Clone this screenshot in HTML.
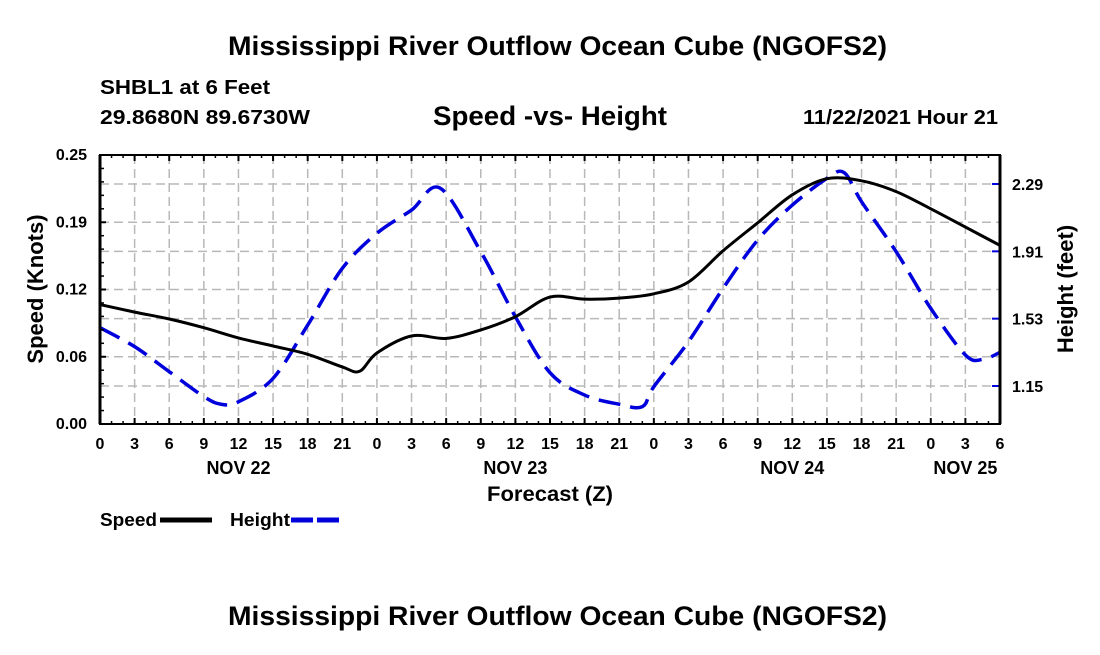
<!DOCTYPE html>
<html><head><meta charset="utf-8"><style>
body{margin:0;background:#fff;}
svg text{font-family:"Liberation Sans",Arial,sans-serif;font-weight:bold;fill:#000;}
</style></head><body>
<svg width="1100" height="650" viewBox="0 0 1100 650">
<text x="228" y="55" font-size="27" textLength="659" lengthAdjust="spacingAndGlyphs">Mississippi River Outflow Ocean Cube (NGOFS2)</text>
<text x="100" y="94" font-size="20" textLength="170" lengthAdjust="spacingAndGlyphs">SHBL1 at 6 Feet</text>
<text x="100" y="124" font-size="20" textLength="210" lengthAdjust="spacingAndGlyphs">29.8680N  89.6730W</text>
<text x="433" y="125" font-size="27" textLength="234" lengthAdjust="spacingAndGlyphs">Speed -vs- Height</text>
<text x="803" y="124" font-size="20" textLength="195" lengthAdjust="spacingAndGlyphs">11/22/2021 Hour 21</text>
<g id="grid"></g>
<g id="series"></g>
<g id="axes"></g>
<text transform="translate(43,289) rotate(-90)" text-anchor="middle" font-size="22">Speed (Knots)</text>
<text transform="translate(1073,289) rotate(-90)" text-anchor="middle" font-size="22">Height (feet)</text>
<text x="487" y="501" font-size="21" textLength="126" lengthAdjust="spacingAndGlyphs">Forecast (Z)</text>
<g>
<text x="100" y="526" font-size="18" textLength="57" lengthAdjust="spacingAndGlyphs">Speed</text>
<line x1="160" y1="520" x2="212" y2="520" stroke="#000" stroke-width="5"/>
<text x="230" y="526" font-size="18" textLength="60" lengthAdjust="spacingAndGlyphs">Height</text>
<line x1="291" y1="520" x2="343" y2="520" stroke="#0000dd" stroke-width="5" stroke-dasharray="22,4"/>
</g>
<text x="228" y="625" font-size="27" textLength="659" lengthAdjust="spacingAndGlyphs">Mississippi River Outflow Ocean Cube (NGOFS2)</text>
</svg>
<script>
const speedHours=[0,3,6,9,12,15,18,21,22.5,24,27,30,33,36,39,42,45,48,51,54,57,60,63,66,69,72,75,78];
const speedValues=[0.111,0.104,0.0976,0.0895,0.080,0.0725,0.0648,0.053,0.049,0.066,0.0818,0.0796,0.0874,0.0997,0.118,0.116,0.117,0.121,0.132,0.161,0.187,0.213,0.228,0.226,0.216,0.200,0.183,0.166];
const heightHours=[0,3,6,9,10.5,12,15,18,21,24,27,29.5,33,36,39,42,45,47,48,51,54,57,60,63,64.5,66,69,72,75,76.5,78];
const heightValues=[1.479,1.372,1.231,1.090,1.047,1.061,1.193,1.494,1.814,2.012,2.143,2.266,1.908,1.541,1.225,1.099,1.047,1.033,1.146,1.40,1.701,1.974,2.171,2.322,2.354,2.19,1.908,1.588,1.325,1.30,1.34];
const speedTicks=["0.00","0.06","0.12","0.19","0.25"];
const heightTicks=["1.15","1.53","1.91","2.29"];
const hourLabels=["0","3","6","9","12","15","18","21","0","3","6","9","12","15","18","21","0","3","6","9","12","15","18","21","0","3","6"];
const dayLabels=["NOV 22","NOV 23","NOV 24","NOV 25"];
const dayHours=[12,36,60,75];

const X0=100,X1=1000,Y0=424,Y1=155,HMAX=78;
const xs=h=>X0+(X1-X0)*h/HMAX;
const ys=v=>Y0-(Y0-Y1)*v/0.25;
const yh=f=>386-(f-1.15)*(202/1.14);
const NS='http://www.w3.org/2000/svg';
function mk(tag,attrs,parent){const e=document.createElementNS(NS,tag);for(const k in attrs)e.setAttribute(k,attrs[k]);parent.appendChild(e);return e;}
const grid=document.getElementById('grid'),ser=document.getElementById('series'),ax=document.getElementById('axes');
const gs={stroke:'#b8b8b8','stroke-width':1.5,'stroke-dasharray':'9,5'};
for(let i=1;i<hourLabels.length-1;i++){const l=mk('line',Object.assign({x1:xs(i*3),x2:xs(i*3),y1:Y1,y2:Y0},gs),grid);

}
speedTicks.forEach((t,i)=>{const v=i*0.0625;const y=ys(v);
if(i>0&&i<4){const l=mk('line',Object.assign({x1:X0,x2:X1,y1:y,y2:y},gs),grid);

}
const tk=mk('line',{x1:X0,x2:X0+6,y1:y,y2:y,stroke:'#000','stroke-width':2},ax);


const tx=mk('text',{x:87,y:y+5,'text-anchor':'end','font-size':16},ax);tx.textContent=t;

});
for(let v=0;v<=0.25;v+=0.0125){mk('line',{x1:X0,x2:X0+4,y1:ys(v),y2:ys(v),stroke:'#000','stroke-width':1.5},ax);}
heightTicks.forEach(t=>{const y=yh(parseFloat(t));
const l=mk('line',Object.assign({x1:X0,x2:X1,y1:y,y2:y},gs),grid);


const tk=mk('line',{x1:X1-8,x2:X1,y1:y,y2:y,stroke:'#0000dd','stroke-width':2},ax);


const tx=mk('text',{x:1012,y:y+6,'font-size':16},ax);tx.textContent=t;

});
hourLabels.forEach((t,i)=>{const x=xs(i*3);
mk('line',{x1:x,x2:x,y1:Y0,y2:Y0-6,stroke:'#000','stroke-width':2},ax);
mk('line',{x1:x,x2:x,y1:Y1,y2:Y1+6,stroke:'#000','stroke-width':2},ax);
const tx=mk('text',{x:x,y:449,'text-anchor':'middle','font-size':16},ax);tx.textContent=t;

});
for(let h=0;h<=HMAX;h+=1){mk('line',{x1:xs(h),x2:xs(h),y1:Y0,y2:Y0-3,stroke:'#000','stroke-width':1.5},ax);mk('line',{x1:xs(h),x2:xs(h),y1:Y1,y2:Y1+3,stroke:'#000','stroke-width':1.5},ax);}
dayLabels.forEach((t,i)=>{const tx=mk('text',{x:xs(dayHours[i]),y:474,'text-anchor':'middle','font-size':18},ax);tx.textContent=t;

});
const fr=mk('rect',{x:X0,y:Y1,width:X1-X0,height:Y0-Y1,fill:'none',stroke:'#000','stroke-width':2},ax);


mk('line',{x1:X0,x2:X0,y1:Y1,y2:Y0,stroke:'#000','stroke-width':3},ax);
mk('line',{x1:X1,x2:X1,y1:Y1,y2:Y0,stroke:'#000','stroke-width':3},ax);
function smooth(pts){let d=`M${pts[0][0]},${pts[0][1]}`;
for(let i=0;i<pts.length-1;i++){const p0=pts[i-1]||pts[i],p1=pts[i],p2=pts[i+1],p3=pts[i+2]||p2;
const c1=[p1[0]+(p2[0]-p0[0])/6,p1[1]+(p2[1]-p0[1])/6],c2=[p2[0]-(p3[0]-p1[0])/6,p2[1]-(p3[1]-p1[1])/6];
d+=` C${c1[0]},${c1[1]} ${c2[0]},${c2[1]} ${p2[0]},${p2[1]}`;}return d;}
const hp=mk('path',{d:smooth(heightHours.map((h,i)=>[xs(h),yh(heightValues[i])])),fill:'none',stroke:'#0000dd','stroke-width':3.5,'stroke-dasharray':'22,10'},ser);


const sp=mk('path',{d:smooth(speedHours.map((h,i)=>[xs(h),ys(speedValues[i])])),fill:'none',stroke:'#000','stroke-width':3},ser);


</script>
</body></html>
